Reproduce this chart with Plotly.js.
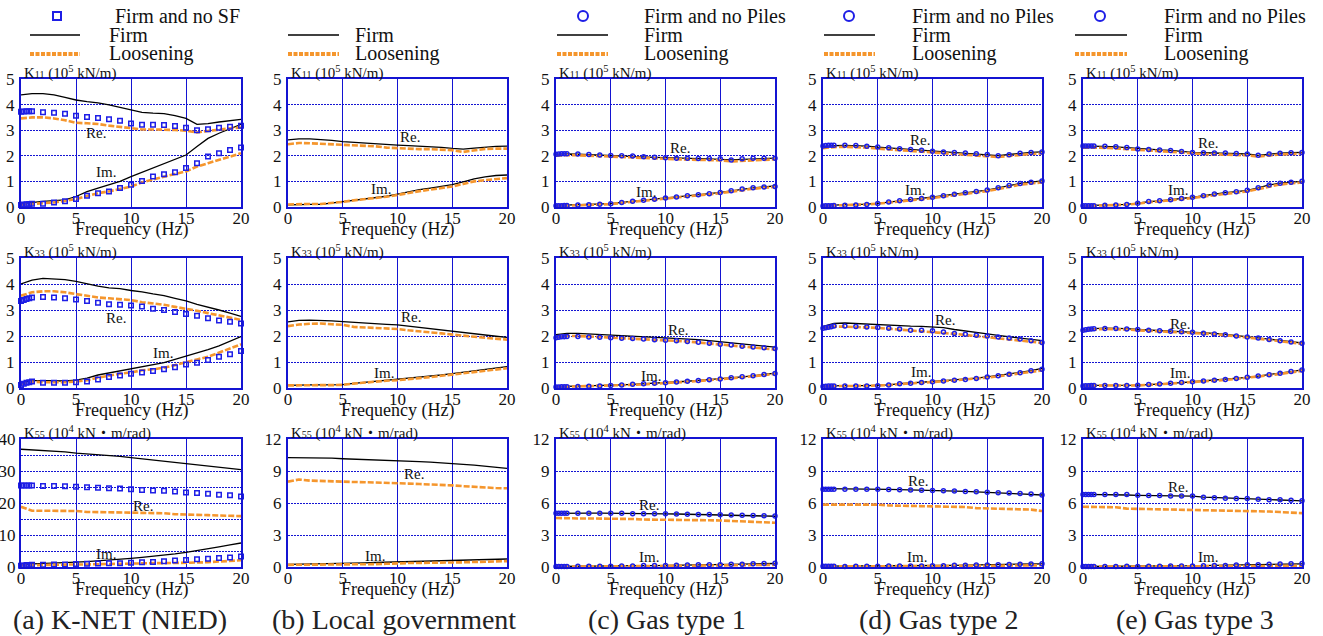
<!DOCTYPE html>
<html>
<head>
<meta charset="utf-8">
<script src="https://cdn.plot.ly/plotly-3.0.1.min.js"></script>
<style>
  html, body { margin: 0; padding: 0; background: #fff; }
  #chart { width: 1323px; height: 636px; }
</style>
</head>
<body>
<div id="chart"></div>
<script>
// Frequency sampling (Hz)
const freq = [0,1,2,3,4,5,6,7,8,9,10,11,12,13,14,15,16,17,18,19,20];
const freqRef = [0,0.25,0.5,0.75,1,2,3,4,5,6,7,8,9,10,11,12,13,14,15,16,17,18,19,20];

const captions = ['(a) K-NET (NIED)', '(b) Local government', '(c) Gas type 1', '(d) Gas type 2', '(e) Gas type 3'];
const refNames = ['Firm and no SF', null, 'Firm and no Piles', 'Firm and no Piles', 'Firm and no Piles'];
const seriesNames = ['Firm', 'Loosening'];
const freqTitle = 'Frequency (Hz)';

// (a) K-NET (NIED)
const a11FirmRe = [4.38,4.43,4.43,4.38,4.28,4.18,4.12,4.07,3.99,3.9,3.81,3.7,3.67,3.65,3.57,3.46,3.23,3.26,3.32,3.38,3.42];
const a11FirmIm = [0.13,0.18,0.22,0.25,0.28,0.41,0.6,0.74,0.87,1.0,1.19,1.36,1.52,1.71,1.87,2.03,2.36,2.68,2.88,3.07,3.23];
const a11LooseRe = [3.46,3.5,3.5,3.46,3.39,3.29,3.27,3.24,3.18,3.13,3.07,3.03,3.03,3.03,3.01,2.98,2.91,2.97,3.03,3.07,3.1];
const a11LooseIm = [0.09,0.12,0.15,0.18,0.24,0.31,0.43,0.54,0.61,0.7,0.8,0.96,1.08,1.19,1.29,1.39,1.58,1.71,1.84,1.97,2.1];
const a11NoSfRe = [3.72,3.73,3.74,3.74,3.74,3.7,3.68,3.64,3.56,3.52,3.48,3.43,3.37,3.26,3.21,3.21,3.2,3.16,3.1,3.0,3.04,3.1,3.13,3.17];
const a11NoSfIm = [0.08,0.1,0.11,0.12,0.13,0.13,0.18,0.22,0.31,0.44,0.54,0.61,0.74,0.87,1.02,1.19,1.28,1.36,1.52,1.71,1.97,2.1,2.23,2.32];

const a33FirmRe = [4.0,4.15,4.22,4.2,4.17,4.1,4.0,3.92,3.85,3.82,3.75,3.7,3.62,3.55,3.45,3.35,3.22,3.12,3.0,2.88,2.75];
const a33FirmIm = [0.2,0.28,0.28,0.27,0.27,0.3,0.38,0.5,0.58,0.67,0.75,0.82,0.9,0.98,1.1,1.22,1.35,1.48,1.62,1.8,1.98];
const a33LooseRe = [3.55,3.68,3.72,3.72,3.68,3.62,3.55,3.48,3.45,3.42,3.38,3.3,3.25,3.2,3.12,3.05,2.97,2.88,2.8,2.72,2.62];
const a33LooseIm = [0.15,0.25,0.22,0.22,0.22,0.25,0.3,0.4,0.48,0.55,0.6,0.68,0.72,0.78,0.88,1.0,1.1,1.2,1.35,1.5,1.68];
const a33NoSfRe = [3.35,3.38,3.42,3.45,3.48,3.5,3.48,3.45,3.4,3.35,3.28,3.22,3.2,3.17,3.13,3.05,3.0,2.92,2.85,2.78,2.68,2.6,2.55,2.48];
const a33NoSfIm = [0.12,0.16,0.2,0.22,0.25,0.2,0.2,0.2,0.22,0.25,0.33,0.42,0.48,0.55,0.6,0.65,0.72,0.8,0.9,0.97,1.08,1.2,1.3,1.42];

const a55FirmRe = [36.8,36.6,36.5,36.4,36.0,35.6,35.4,35.2,34.9,34.6,34.2,33.8,33.4,33.0,32.6,32.3,32.0,31.6,31.2,30.8,30.4];
const a55FirmIm = [0.8,0.9,1.0,1.1,1.3,1.5,1.7,1.9,2.1,2.4,2.7,3.0,3.3,3.7,4.1,4.6,5.1,5.7,6.3,6.9,7.5];
const a55LooseRe = [18.8,17.6,17.6,17.6,17.6,17.5,17.2,17.2,17.1,17.0,17.0,16.9,16.9,16.8,16.5,16.3,16.3,16.2,16.0,16.0,15.9];
const a55LooseIm = [0.5,0.6,0.6,0.7,0.7,0.8,0.8,0.9,0.9,1.0,1.1,1.1,1.2,1.2,1.2,1.3,1.4,1.5,1.7,1.9,2.1];
const a55NoSfRe = [25.5,25.5,25.5,25.5,25.5,25.3,25.3,25.2,25.1,24.9,24.8,24.6,24.5,24.3,24.1,23.9,23.8,23.6,23.3,23.1,22.9,22.6,22.4,22.0];
const a55NoSfIm = [0.4,0.5,0.6,0.6,0.7,0.7,0.8,0.8,0.9,1.0,1.1,1.2,1.2,1.3,1.5,1.6,1.8,2.0,2.2,2.4,2.6,2.8,3.0,3.3];

// (b) Local government
const b11FirmRe = [2.62,2.66,2.66,2.64,2.6,2.55,2.52,2.5,2.48,2.45,2.42,2.4,2.38,2.37,2.33,2.29,2.26,2.3,2.34,2.37,2.38];
const b11FirmIm = [0.08,0.1,0.1,0.1,0.15,0.2,0.27,0.32,0.37,0.42,0.5,0.6,0.68,0.74,0.8,0.87,0.98,1.1,1.18,1.23,1.25];
const b11LooseRe = [2.45,2.5,2.49,2.47,2.45,2.43,2.41,2.39,2.37,2.32,2.3,2.27,2.26,2.26,2.25,2.22,2.15,2.2,2.27,2.28,2.28];
const b11LooseIm = [0.1,0.12,0.12,0.12,0.15,0.2,0.26,0.3,0.35,0.4,0.47,0.55,0.62,0.68,0.73,0.8,0.9,1.0,1.05,1.1,1.13];

const b33FirmRe = [2.54,2.6,2.61,2.6,2.58,2.55,2.52,2.5,2.47,2.45,2.43,2.38,2.33,2.28,2.22,2.17,2.13,2.08,2.03,1.99,1.95];
const b33FirmIm = [0.1,0.12,0.12,0.12,0.12,0.13,0.18,0.22,0.26,0.3,0.33,0.36,0.4,0.45,0.5,0.55,0.6,0.66,0.72,0.77,0.82];
const b33LooseRe = [2.38,2.44,2.47,2.48,2.45,2.43,2.35,2.33,2.31,2.29,2.27,2.22,2.17,2.14,2.1,2.05,2.01,1.97,1.93,1.9,1.86];
const b33LooseIm = [0.1,0.11,0.11,0.11,0.11,0.12,0.17,0.21,0.25,0.28,0.3,0.33,0.38,0.42,0.47,0.52,0.57,0.62,0.67,0.72,0.76];

const b55FirmRe = [10.25,10.25,10.23,10.22,10.2,10.15,10.12,10.08,10.05,10.0,9.97,9.93,9.88,9.83,9.78,9.72,9.63,9.55,9.45,9.35,9.25];
const b55FirmIm = [0.25,0.26,0.27,0.28,0.3,0.32,0.35,0.38,0.42,0.45,0.49,0.52,0.54,0.56,0.58,0.6,0.63,0.66,0.69,0.72,0.75];
const b55LooseRe = [8.0,8.2,8.1,8.05,8.05,8.02,7.97,7.95,7.93,7.9,7.86,7.82,7.78,7.75,7.7,7.65,7.58,7.5,7.43,7.4,7.38];
const b55LooseIm = [0.2,0.2,0.2,0.2,0.21,0.22,0.23,0.25,0.27,0.3,0.36,0.37,0.38,0.38,0.39,0.4,0.44,0.47,0.5,0.53,0.55];

// (c) Gas type 1
const c11FirmRe = [2.05,2.07,2.06,2.04,2.02,2.0,1.99,1.98,1.96,1.94,1.93,1.91,1.9,1.89,1.88,1.87,1.84,1.86,1.88,1.9,1.91];
const c11FirmIm = [0.06,0.07,0.08,0.09,0.11,0.13,0.18,0.22,0.26,0.3,0.35,0.39,0.44,0.48,0.52,0.57,0.63,0.7,0.75,0.79,0.82];
const c11LooseRe = [2.0,2.03,2.02,2.0,1.98,1.96,1.95,1.94,1.92,1.9,1.88,1.85,1.85,1.84,1.83,1.82,1.78,1.8,1.83,1.85,1.86];
const c11LooseIm = [0.04,0.05,0.06,0.07,0.09,0.11,0.16,0.2,0.24,0.28,0.32,0.36,0.41,0.45,0.49,0.54,0.6,0.66,0.71,0.75,0.78];
const c11NoPRe = [2.06,2.07,2.08,2.08,2.08,2.07,2.05,2.03,2.01,2.0,1.99,1.96,1.94,1.92,1.9,1.9,1.89,1.89,1.88,1.84,1.88,1.9,1.9,1.9];
const c11NoPIm = [0.05,0.05,0.05,0.06,0.06,0.08,0.09,0.11,0.13,0.18,0.22,0.26,0.3,0.35,0.39,0.44,0.48,0.52,0.57,0.63,0.7,0.75,0.78,0.8];

const c33FirmRe = [2.05,2.1,2.1,2.08,2.06,2.04,2.02,2.0,1.98,1.96,1.94,1.92,1.9,1.86,1.82,1.78,1.74,1.7,1.66,1.62,1.57];
const c33FirmIm = [0.05,0.06,0.06,0.07,0.08,0.1,0.12,0.14,0.16,0.18,0.2,0.23,0.26,0.29,0.32,0.35,0.39,0.43,0.47,0.52,0.57];
const c33LooseRe = [1.95,2.0,2.0,1.98,1.96,1.94,1.92,1.9,1.88,1.86,1.84,1.82,1.79,1.75,1.71,1.67,1.63,1.6,1.56,1.52,1.48];
const c33LooseIm = [0.04,0.05,0.05,0.06,0.07,0.08,0.1,0.12,0.14,0.16,0.18,0.21,0.24,0.27,0.3,0.33,0.37,0.41,0.45,0.5,0.54];
const c33NoPRe = [1.93,1.95,1.97,1.97,1.98,1.98,1.96,1.95,1.93,1.91,1.9,1.88,1.86,1.84,1.82,1.79,1.76,1.72,1.68,1.65,1.61,1.58,1.55,1.52];
const c33NoPIm = [0.04,0.04,0.05,0.05,0.05,0.06,0.07,0.08,0.1,0.12,0.14,0.16,0.18,0.2,0.23,0.26,0.29,0.32,0.35,0.39,0.43,0.47,0.52,0.56];

const c55FirmRe = [5.02,5.05,5.05,5.05,5.05,5.05,5.04,5.03,5.02,5.0,4.98,4.97,4.95,4.93,4.9,4.87,4.85,4.83,4.81,4.79,4.76];
const c55FirmIm = [0.05,0.05,0.06,0.07,0.08,0.09,0.1,0.11,0.12,0.13,0.14,0.15,0.17,0.19,0.21,0.23,0.25,0.27,0.29,0.31,0.33];
const c55LooseRe = [4.6,4.55,4.55,4.55,4.55,4.55,4.52,4.5,4.45,4.45,4.44,4.43,4.42,4.4,4.38,4.36,4.33,4.3,4.28,4.25,4.15];
const c55LooseIm = [0.03,0.03,0.04,0.04,0.05,0.05,0.06,0.07,0.08,0.09,0.1,0.11,0.12,0.13,0.14,0.15,0.16,0.17,0.18,0.19,0.2];
const c55NoPRe = [5.05,5.05,5.05,5.05,5.05,5.05,5.05,5.05,5.05,5.03,5.0,5.0,5.0,5.0,4.97,4.95,4.93,4.92,4.9,4.87,4.85,4.83,4.8,4.78];
const c55NoPIm = [0.05,0.05,0.05,0.05,0.05,0.06,0.07,0.08,0.08,0.09,0.1,0.15,0.15,0.15,0.16,0.18,0.2,0.21,0.22,0.25,0.26,0.3,0.32,0.35];

// (d) Gas type 2
const d11FirmRe = [2.36,2.4,2.41,2.4,2.38,2.34,2.31,2.28,2.25,2.22,2.18,2.15,2.13,2.11,2.08,2.05,2.01,2.05,2.1,2.13,2.15];
const d11FirmIm = [0.06,0.07,0.08,0.09,0.11,0.14,0.2,0.24,0.29,0.33,0.38,0.44,0.5,0.56,0.61,0.66,0.75,0.84,0.92,0.97,1.02];
const d11LooseRe = [2.3,2.34,2.35,2.34,2.32,2.28,2.25,2.22,2.19,2.16,2.12,2.09,2.07,2.05,2.02,1.99,1.95,1.99,2.04,2.07,2.09];
const d11LooseIm = [0.05,0.06,0.07,0.08,0.1,0.13,0.18,0.22,0.26,0.3,0.35,0.41,0.47,0.52,0.57,0.62,0.7,0.79,0.87,0.92,0.96];
const d11NoPRe = [2.38,2.4,2.41,2.41,2.41,2.41,2.4,2.37,2.34,2.31,2.28,2.25,2.22,2.18,2.15,2.13,2.11,2.08,2.05,2.0,2.04,2.1,2.13,2.15];
const d11NoPIm = [0.04,0.05,0.05,0.05,0.06,0.07,0.08,0.1,0.14,0.2,0.24,0.29,0.33,0.38,0.44,0.5,0.56,0.61,0.66,0.75,0.84,0.92,0.97,1.02];

const d33FirmRe = [2.37,2.48,2.5,2.48,2.45,2.42,2.41,2.4,2.38,2.37,2.35,2.32,2.25,2.2,2.14,2.08,2.02,1.97,1.92,1.87,1.82];
const d33FirmIm = [0.08,0.09,0.09,0.09,0.09,0.1,0.12,0.17,0.19,0.22,0.25,0.28,0.31,0.34,0.38,0.43,0.48,0.54,0.6,0.67,0.75];
const d33LooseRe = [2.3,2.36,2.36,2.35,2.33,2.31,2.28,2.25,2.22,2.18,2.15,2.12,2.08,2.04,2.0,1.95,1.91,1.86,1.82,1.78,1.73];
const d33LooseIm = [0.07,0.08,0.08,0.08,0.08,0.09,0.11,0.15,0.17,0.2,0.23,0.26,0.29,0.32,0.36,0.4,0.45,0.5,0.56,0.62,0.68];
const d33NoPRe = [2.3,2.32,2.34,2.36,2.38,2.38,2.37,2.35,2.33,2.3,2.27,2.22,2.22,2.2,2.15,2.1,2.07,2.03,2.0,1.96,1.92,1.88,1.82,1.75];
const d33NoPIm = [0.06,0.07,0.08,0.08,0.08,0.08,0.08,0.08,0.09,0.12,0.16,0.18,0.21,0.24,0.27,0.3,0.33,0.37,0.42,0.47,0.53,0.59,0.66,0.72];

const d55FirmRe = [7.35,7.35,7.35,7.34,7.32,7.3,7.28,7.26,7.24,7.22,7.2,7.17,7.13,7.09,7.05,6.98,6.94,6.9,6.85,6.8,6.75];
const d55FirmIm = [0.08,0.08,0.08,0.09,0.09,0.1,0.1,0.11,0.12,0.12,0.13,0.14,0.16,0.17,0.18,0.2,0.22,0.24,0.26,0.28,0.3];
const d55LooseRe = [5.85,5.85,5.85,5.85,5.85,5.85,5.77,5.75,5.73,5.72,5.7,5.68,5.65,5.62,5.52,5.5,5.48,5.45,5.42,5.38,5.25];
const d55LooseIm = [0.05,0.05,0.05,0.05,0.06,0.06,0.06,0.07,0.07,0.08,0.08,0.09,0.09,0.1,0.1,0.11,0.12,0.13,0.14,0.15,0.16];
const d55NoPRe = [7.3,7.3,7.3,7.3,7.3,7.3,7.3,7.3,7.28,7.27,7.25,7.22,7.2,7.18,7.15,7.12,7.08,7.05,7.0,6.97,6.94,6.9,6.85,6.75];
const d55NoPIm = [0.08,0.08,0.08,0.08,0.08,0.05,0.06,0.08,0.08,0.1,0.1,0.1,0.1,0.12,0.12,0.16,0.17,0.18,0.18,0.2,0.23,0.25,0.28,0.3];

// (e) Gas type 3
const e11FirmRe = [2.38,2.38,2.37,2.35,2.32,2.27,2.25,2.23,2.21,2.17,2.13,2.12,2.11,2.1,2.09,2.07,2.02,2.07,2.1,2.12,2.13];
const e11FirmIm = [0.05,0.06,0.07,0.08,0.1,0.15,0.21,0.24,0.28,0.33,0.38,0.44,0.51,0.56,0.6,0.65,0.75,0.86,0.93,0.97,1.0];
const e11LooseRe = [2.32,2.32,2.31,2.29,2.26,2.22,2.2,2.18,2.15,2.11,2.08,2.07,2.06,2.05,2.04,2.02,1.97,2.02,2.05,2.07,2.08];
const e11LooseIm = [0.04,0.05,0.06,0.07,0.09,0.13,0.19,0.22,0.26,0.3,0.35,0.41,0.47,0.52,0.56,0.61,0.71,0.81,0.88,0.92,0.96];
const e11NoPRe = [2.38,2.38,2.38,2.38,2.38,2.37,2.35,2.32,2.27,2.25,2.23,2.21,2.17,2.13,2.12,2.11,2.11,2.09,2.07,2.02,2.07,2.1,2.12,2.13];
const e11NoPIm = [0.05,0.05,0.05,0.05,0.05,0.07,0.08,0.1,0.15,0.21,0.24,0.28,0.33,0.38,0.44,0.51,0.56,0.6,0.65,0.75,0.86,0.93,0.97,1.01];

const e33FirmRe = [2.23,2.28,2.3,2.3,2.28,2.25,2.23,2.2,2.18,2.16,2.15,2.12,2.1,2.06,2.02,1.98,1.93,1.88,1.83,1.78,1.73];
const e33FirmIm = [0.1,0.1,0.1,0.1,0.1,0.11,0.13,0.15,0.18,0.21,0.24,0.27,0.3,0.33,0.37,0.41,0.46,0.51,0.57,0.63,0.7];
const e33LooseRe = [2.2,2.25,2.27,2.27,2.25,2.22,2.2,2.17,2.15,2.13,2.12,2.09,2.07,2.03,1.99,1.95,1.9,1.85,1.8,1.75,1.7];
const e33LooseIm = [0.09,0.09,0.09,0.09,0.09,0.1,0.12,0.14,0.17,0.2,0.23,0.25,0.28,0.31,0.35,0.39,0.44,0.49,0.54,0.6,0.66];
const e33NoPRe = [2.22,2.24,2.26,2.27,2.28,2.29,2.29,2.27,2.25,2.22,2.2,2.18,2.16,2.14,2.11,2.08,2.05,2.0,1.96,1.92,1.87,1.82,1.77,1.72];
const e33NoPIm = [0.08,0.09,0.09,0.1,0.1,0.1,0.1,0.1,0.11,0.13,0.15,0.18,0.21,0.24,0.27,0.3,0.33,0.37,0.41,0.46,0.51,0.57,0.63,0.69];

const e55FirmRe = [6.8,6.8,6.8,6.78,6.75,6.72,6.71,6.7,6.68,6.67,6.65,6.55,6.52,6.5,6.47,6.43,6.38,6.33,6.28,6.24,6.2];
const e55FirmIm = [0.05,0.05,0.05,0.06,0.06,0.07,0.07,0.08,0.09,0.1,0.11,0.12,0.15,0.16,0.18,0.2,0.22,0.24,0.26,0.28,0.3];
const e55LooseRe = [5.65,5.62,5.6,5.6,5.47,5.45,5.44,5.43,5.42,5.41,5.4,5.37,5.34,5.33,5.32,5.3,5.25,5.2,5.15,5.1,5.05];
const e55LooseIm = [0.03,0.03,0.04,0.04,0.04,0.05,0.05,0.05,0.06,0.06,0.07,0.07,0.08,0.08,0.09,0.09,0.1,0.1,0.11,0.11,0.12];
const e55NoPRe = [6.8,6.8,6.8,6.8,6.8,6.8,6.8,6.8,6.72,6.7,6.7,6.65,6.65,6.65,6.55,6.5,6.45,6.43,6.42,6.35,6.3,6.3,6.25,6.2];
const e55NoPIm = [0.05,0.05,0.05,0.05,0.05,0.05,0.05,0.06,0.05,0.07,0.08,0.1,0.1,0.1,0.12,0.15,0.15,0.18,0.2,0.22,0.25,0.28,0.3,0.32];

// Panel table: [column][row]
const panels = [
  [
    {firmRe:a11FirmRe, firmIm:a11FirmIm, looseRe:a11LooseRe, looseIm:a11LooseIm, refRe:a11NoSfRe, refIm:a11NoSfIm},
    {firmRe:a33FirmRe, firmIm:a33FirmIm, looseRe:a33LooseRe, looseIm:a33LooseIm, refRe:a33NoSfRe, refIm:a33NoSfIm},
    {firmRe:a55FirmRe, firmIm:a55FirmIm, looseRe:a55LooseRe, looseIm:a55LooseIm, refRe:a55NoSfRe, refIm:a55NoSfIm}
  ],
  [
    {firmRe:b11FirmRe, firmIm:b11FirmIm, looseRe:b11LooseRe, looseIm:b11LooseIm},
    {firmRe:b33FirmRe, firmIm:b33FirmIm, looseRe:b33LooseRe, looseIm:b33LooseIm},
    {firmRe:b55FirmRe, firmIm:b55FirmIm, looseRe:b55LooseRe, looseIm:b55LooseIm}
  ],
  [
    {firmRe:c11FirmRe, firmIm:c11FirmIm, looseRe:c11LooseRe, looseIm:c11LooseIm, refRe:c11NoPRe, refIm:c11NoPIm},
    {firmRe:c33FirmRe, firmIm:c33FirmIm, looseRe:c33LooseRe, looseIm:c33LooseIm, refRe:c33NoPRe, refIm:c33NoPIm},
    {firmRe:c55FirmRe, firmIm:c55FirmIm, looseRe:c55LooseRe, looseIm:c55LooseIm, refRe:c55NoPRe, refIm:c55NoPIm}
  ],
  [
    {firmRe:d11FirmRe, firmIm:d11FirmIm, looseRe:d11LooseRe, looseIm:d11LooseIm, refRe:d11NoPRe, refIm:d11NoPIm},
    {firmRe:d33FirmRe, firmIm:d33FirmIm, looseRe:d33LooseRe, looseIm:d33LooseIm, refRe:d33NoPRe, refIm:d33NoPIm},
    {firmRe:d55FirmRe, firmIm:d55FirmIm, looseRe:d55LooseRe, looseIm:d55LooseIm, refRe:d55NoPRe, refIm:d55NoPIm}
  ],
  [
    {firmRe:e11FirmRe, firmIm:e11FirmIm, looseRe:e11LooseRe, looseIm:e11LooseIm, refRe:e11NoPRe, refIm:e11NoPIm},
    {firmRe:e33FirmRe, firmIm:e33FirmIm, looseRe:e33LooseRe, looseIm:e33LooseIm, refRe:e33NoPRe, refIm:e33NoPIm},
    {firmRe:e55FirmRe, firmIm:e55FirmIm, looseRe:e55LooseRe, looseIm:e55LooseIm, refRe:e55NoPRe, refIm:e55NoPIm}
  ]
];

// ---- styling / layout geometry ----
const W = 1323, H = 636;
const SERIF = "'Liberation Serif', 'Times New Roman', 'Noto Sans CJK JP', serif";
const BLUE = '#1414d2';
const MARK = '#1e1ee6';
const ORANGE = '#f5962d';
const colPx = [[21,241],[288,507],[556,775],[823,1042],[1083,1302]];
const rowPx = [[79,207],[258,388],[439,567]];
const refSymbols = ['square-open', null, 'circle-open', 'circle-open', 'circle-open'];

const rowLabels = [
  'K<span style="font-size:10px">11</span> (10<sup>5</sup> kN/m)',
  'K<span style="font-size:10px">33</span> (10<sup>5</sup> kN/m)',
  'K<span style="font-size:10px">55</span> (10<sup>4</sup> kN・m/rad)'
];

const reLabelAt = [
  [[6.8,2.9],[8.6,2.71],[11.1,19.1]],
  [[11.1,2.75],[11.2,2.75],[11.5,8.68]],
  [[11.3,2.32],[11.1,2.23],[8.5,5.8]],
  [[8.9,2.62],[11.1,2.61],[8.7,8.05]],
  [[11.4,2.49],[8.9,2.46],[8.7,7.46]]
];
const imLabelAt = [
  [[7.7,1.35],[12.9,1.35],[7.7,4.2]],
  [[8.5,0.7],[8.8,0.59],[7.9,1.03]],
  [[8.2,0.6],[8.7,0.46],[8.5,0.95]],
  [[8.4,0.66],[8.95,0.61],[8.6,0.94]],
  [[8.7,0.67],[8.9,0.58],[11.4,0.94]]
];

function yAxisSpec(c, r) {
  if (r < 2) return {range:[0,5], dtick:1};
  if (c === 0) return {range:[0,40], dtick:10, ticklabelstandoff:0,
    minor:{dtick:5, showgrid:true, gridcolor:BLUE, gridwidth:1, griddash:'2px,1px'}};
  return {range:[0,12], dtick:3};
}

const traces = [];
const layout = {
  width: W, height: H,
  margin: {l:0, r:0, t:0, b:0},
  paper_bgcolor: '#fff', plot_bgcolor: '#fff',
  showlegend: false,
  font: {family: SERIF, color: '#111'},
  annotations: [], shapes: []
};

for (let c = 0; c < 5; c++) {
  for (let r = 0; r < 3; r++) {
    const k = r * 5 + c + 1;
    const xa = k === 1 ? 'x' : 'x' + k;
    const ya = k === 1 ? 'y' : 'y' + k;
    const p = panels[c][r];

    const firmLine = {color:'#000', width:1.3};
    const looseLine = {color:ORANGE, width:2.6, dash:'6px,2px'};
    [['firmRe', firmLine, seriesNames[0]], ['firmIm', firmLine, seriesNames[0]],
     ['looseRe', looseLine, seriesNames[1]], ['looseIm', looseLine, seriesNames[1]]].forEach(([key, line, nm]) => {
      traces.push({x:freq, y:p[key], xaxis:xa, yaxis:ya, type:'scatter', mode:'lines',
        name:nm, line:line, hoverinfo:'x+y'});
    });
    if (p.refRe) {
      const sq = refSymbols[c] === 'square-open';
      ['refRe', 'refIm'].forEach(key => {
        traces.push({x:freqRef, y:p[key], xaxis:xa, yaxis:ya, type:'scatter', mode:'markers',
          name:refNames[c], cliponaxis:false,
          marker:{symbol:refSymbols[c], size: sq ? 4.5 : 4, color:MARK, line:{width:1.5, color:MARK}}});
      });
    }

    const xKey = k === 1 ? 'xaxis' : 'xaxis' + k;
    const yKey = k === 1 ? 'yaxis' : 'yaxis' + k;
    layout[xKey] = {
      domain:[colPx[c][0]/W, colPx[c][1]/W], anchor:ya,
      range:[0,20], tick0:0, dtick:5, fixedrange:true,
      showgrid:true, gridcolor:BLUE, gridwidth:1,
      showline:true, mirror:true, linecolor:BLUE, linewidth:2,
      zeroline:false, ticks:'', ticklabelstandoff:-5,
      tickfont:{family:SERIF, size:17, color:'#111'}
    };
    const ys = yAxisSpec(c, r);
    layout[yKey] = Object.assign({
      domain:[1 - rowPx[r][1]/H, 1 - rowPx[r][0]/H], anchor:xa,
      tick0:0, fixedrange:true,
      showgrid:true, gridcolor:BLUE, gridwidth:1, griddash:'2px,1px',
      showline:true, mirror:true, linecolor:BLUE, linewidth:2,
      zeroline:false, ticks:'', ticklabelstandoff:1,
      tickfont:{family:SERIF, size:17, color:'#111'}
    }, ys);

    // axis captions
    layout.annotations.push({
      xref: xa + ' domain', yref: ya + ' domain', x:0.5, y:0, yshift:-22,
      xanchor:'center', yanchor:'middle', showarrow:false,
      text: freqTitle, font:{family:SERIF, size:18, color:'#111'}
    });
    layout.annotations.push({
      xref: xa + ' domain', yref: ya + ' domain', x:0, y:1, xshift:1, yshift:7,
      xanchor:'left', yanchor:'middle', showarrow:false,
      text: rowLabels[r], font:{family:SERIF, size:15, color:'#111'}
    });
    // Re. / Im. markers of the curve pairs
    layout.annotations.push({
      xref:xa, yref:ya, x:reLabelAt[c][r][0], y:reLabelAt[c][r][1],
      showarrow:false, text:'Re.', font:{family:SERIF, size:15, color:'#111'}
    });
    layout.annotations.push({
      xref:xa, yref:ya, x:imLabelAt[c][r][0], y:imLabelAt[c][r][1],
      showarrow:false, text:'Im.', font:{family:SERIF, size:15, color:'#111'}
    });
  }
}

// panel captions
const captionCenters = [120, 394, 667, 938, 1195];
captions.forEach((t, c) => {
  layout.annotations.push({
    xref:'paper', yref:'paper', x:captionCenters[c]/W, y:1 - 619/H,
    xanchor:'center', yanchor:'middle', showarrow:false,
    text:t, font:{family:SERIF, size:28, color:'#222'}
  });
});

// legend keys above each column
const legendKeys = [
  {sample:[30,80], text:[113,107], marker:57},
  {sample:[288,339], text:[null,353], marker:null},
  {sample:[557,608], text:[642,642], marker:583},
  {sample:[824,875], text:[910,910], marker:849},
  {sample:[1075,1127], text:[1162,1162], marker:1100}
];
const legendRowY = [16, 35, 54];
const px = v => v / W, py = v => 1 - v / H;
legendKeys.forEach((lk, c) => {
  if (refNames[c]) {
    const isSquare = refSymbols[c] === 'square-open';
    const s = isSquare ? 4 : 5;
    layout.shapes.push({
      type: isSquare ? 'rect' : 'circle', xref:'paper', yref:'paper',
      xsizemode:'pixel', ysizemode:'pixel',
      xanchor:px(lk.marker), yanchor:py(legendRowY[0]),
      x0:-s, x1:s, y0:-s, y1:s,
      line:{color:MARK, width:2}, fillcolor:'rgba(0,0,0,0)'
    });
    layout.annotations.push({
      xref:'paper', yref:'paper', x:px(lk.text[0]), y:py(legendRowY[0]),
      xanchor:'left', yanchor:'middle', showarrow:false,
      text:refNames[c], font:{family:SERIF, size:20, color:'#111'}
    });
  }
  layout.shapes.push({
    type:'line', xref:'paper', yref:'paper',
    x0:px(lk.sample[0]), x1:px(lk.sample[1]), y0:py(legendRowY[1]), y1:py(legendRowY[1]),
    line:{color:'#000', width:1.5}
  });
  layout.shapes.push({
    type:'line', xref:'paper', yref:'paper',
    x0:px(lk.sample[0]), x1:px(lk.sample[1]), y0:py(legendRowY[2]), y1:py(legendRowY[2]),
    line:{color:ORANGE, width:4, dash:'4px,1.5px'}
  });
  layout.annotations.push({
    xref:'paper', yref:'paper', x:px(lk.text[1]), y:py(legendRowY[1]),
    xanchor:'left', yanchor:'middle', showarrow:false,
    text:seriesNames[0], font:{family:SERIF, size:20, color:'#111'}
  });
  layout.annotations.push({
    xref:'paper', yref:'paper', x:px(lk.text[1]), y:py(legendRowY[2]),
    xanchor:'left', yanchor:'middle', showarrow:false,
    text:seriesNames[1], font:{family:SERIF, size:20, color:'#111'}
  });
});

Plotly.newPlot('chart', traces, layout, {staticPlot:true, displayModeBar:false});
</script>
</body>
</html>
